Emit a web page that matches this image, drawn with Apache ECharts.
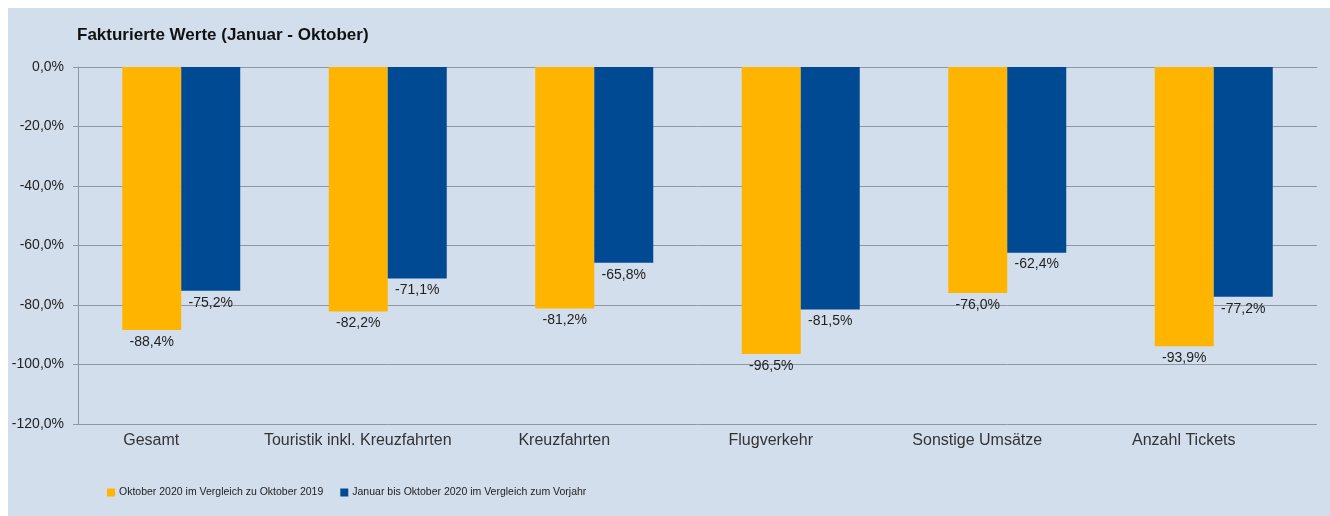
<!DOCTYPE html>
<html>
<head>
<meta charset="utf-8">
<script src="https://cdn.jsdelivr.net/npm/echarts@6/dist/echarts.min.js"></script>
<style>
  html, body { margin: 0; padding: 0; background: #fff; }
  #chart { position: absolute; left: 8px; top: 8px; width: 1322px; height: 508px; background: #d3deed; }
</style>
</head>
<body>
<div id="chart"></div>
<script>
const categories = ['Gesamt', 'Touristik inkl. Kreuzfahrten', 'Kreuzfahrten', 'Flugverkehr', 'Sonstige Umsätze', 'Anzahl Tickets']
const oktoberValues = [-88.4, -82.2, -81.2, -96.5, -76.0, -93.9]
const januarOktoberValues = [-75.2, -71.1, -65.8, -81.5, -62.4, -77.2]
const seriesNames = ['Oktober 2020 im Vergleich zu Oktober 2019', 'Januar bis Oktober 2020 im Vergleich zum Vorjahr']

const fmt = v => v.toFixed(1).replace('.', ',') + '%'
const font = 'Arial, "Liberation Sans", sans-serif'

const chart = echarts.init(document.getElementById('chart'))

chart.setOption({
  animation: false,
  textStyle: { fontFamily: font },
  title: {
    text: 'Fakturierte Werte (Januar - Oktober)',
    left: 64,
    top: 14,
    textStyle: { fontSize: 17, fontWeight: 'bold', color: '#111', fontFamily: font }
  },
  legend: {
    left: 94,
    top: 474,
    itemWidth: 8,
    itemHeight: 8,
    itemGap: 17,
    icon: 'rect',
    textStyle: { fontSize: 10.5, color: '#222', padding: [0, 0, 0, -1] },
    data: seriesNames
  },
  grid: {
    left: 70,
    right: 13,
    top: 59,
    bottom: 92
  },
  xAxis: {
    type: 'category',
    data: categories,
    axisTick: { show: false },
    axisLine: { lineStyle: { color: '#8e98a4' } },
    // labels in the original sit a bit left of the bar pairs
    axisLabel: { fontSize: 16, color: '#333', margin: 9, interval: 0, padding: [0, 60, 0, 0] }
  },
  yAxis: {
    type: 'value',
    min: -120,
    max: 0,
    interval: 20,
    axisLine: { show: true, lineStyle: { color: '#8e98a4' } },
    axisTick: { show: true, length: 5, lineStyle: { color: '#8e98a4' } },
    splitLine: { lineStyle: { color: '#8e98a4' } },
    axisLabel: { fontSize: 14, color: '#222', margin: 14, formatter: v => fmt(v) }
  },
  series: [
    {
      name: seriesNames[0],
      type: 'bar',
      data: oktoberValues,
      barWidth: 59,
      barGap: '0%',
      itemStyle: { color: '#ffb400' },
      label: { show: true, position: 'bottom', distance: 5, fontSize: 14, color: '#222', formatter: p => fmt(p.value) }
    },
    {
      name: seriesNames[1],
      type: 'bar',
      data: januarOktoberValues,
      barWidth: 59,
      barGap: '0%',
      itemStyle: { color: '#004a93' },
      label: { show: true, position: 'bottom', distance: 5, fontSize: 14, color: '#222', formatter: p => fmt(p.value) }
    }
  ]
})
</script>
</body>
</html>
